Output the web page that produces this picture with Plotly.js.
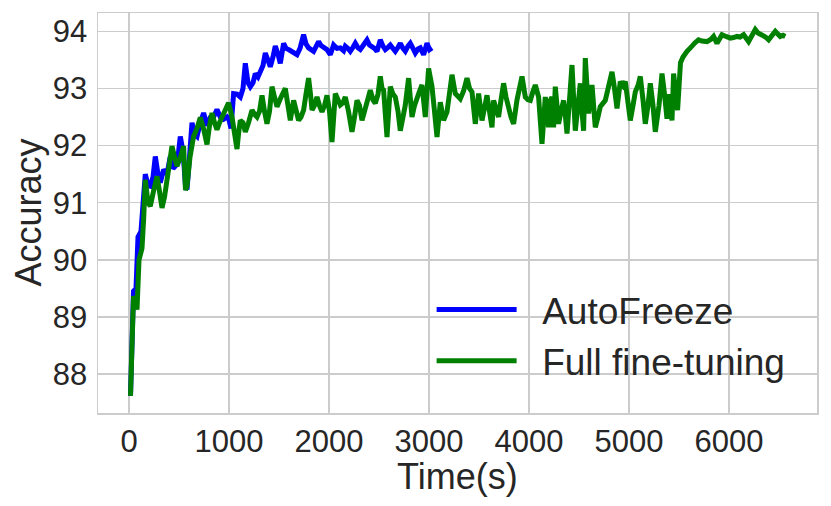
<!DOCTYPE html>
<html>
<head>
<meta charset="utf-8">
<script src="https://cdn.plot.ly/plotly-3.0.1.min.js"></script>
<style>html,body{margin:0;padding:0;background:#fff;}#chart{width:831px;height:506px;}</style>
</head>
<body>
<div id="chart"></div>
<script>
// AutoFreeze series
const autoTime = [15,45,70,90,120,163,190,213,240,263,290,313,346,380,413,440,463,490,513,540,565,580,605,630,655,680,713,746,780,813,846,880,913,946,980,1000,1020,1046,1080,1113,1140,1163,1190,1213,1240,1263,1290,1313,1340,1363,1390,1413,1440,1463,1490,1513,1546,1570,1596,1640,1680,1710,1746,1770,1796,1846,1870,1896,1920,1946,1980,2013,2046,2080,2113,2146,2163,2190,2213,2240,2263,2290,2313,2345,2380,2405,2430,2455,2480,2513,2540,2563,2590,2613,2640,2663,2690,2713,2740,2763,2790,2813,2840,2863,2890,2913,2946,2980,3005,3030];
const autoAcc  = [87.62,89.45,89.5,90.4,90.5,91.5,91.3,91.29,91.45,91.81,91.5,91.35,91.58,91.5,91.81,91.6,91.64,91.8,92.16,91.9,91.3,91.23,91.8,92.4,92.2,92.16,92.4,92.57,92.35,92.49,92.5,92.63,92.5,92.46,92.5,92.45,92.3,92.91,92.9,92.85,93.0,93.44,93.1,93.03,93.1,93.26,93.2,93.32,93.4,93.62,93.5,93.38,93.55,93.74,93.6,93.44,93.79,93.7,93.68,93.62,93.59,93.7,93.94,93.78,93.71,93.65,93.72,93.82,93.75,93.71,93.68,93.59,93.76,93.7,93.71,93.66,93.74,93.7,93.65,93.72,93.79,93.71,93.68,93.76,93.85,93.76,93.74,93.7,93.65,93.85,93.74,93.68,93.72,93.76,93.7,93.65,93.72,93.79,93.7,93.65,93.74,93.79,93.7,93.62,93.69,93.71,93.59,93.79,93.68,93.71];

// Full fine-tuning series
const fullTime = [15,45,65,80,100,113,130,146,163,190,213,245,280,305,330,355,380,405,430,455,480,515,546,565,580,610,646,680,713,745,780,805,830,855,880,905,930,960,996,1030,1060,1080,1095,1113,1140,1163,1195,1230,1255,1280,1305,1330,1355,1380,1405,1430,1455,1480,1513,1540,1563,1590,1613,1646,1670,1696,1720,1746,1770,1796,1815,1830,1855,1880,1905,1930,1955,1980,2005,2030,2063,2090,2113,2140,2163,2195,2230,2255,2280,2305,2330,2355,2380,2413,2440,2463,2490,2513,2530,2546,2580,2613,2640,2663,2690,2713,2740,2763,2796,2830,2855,2880,2905,2930,2963,2996,3030,3055,3080,3113,3146,3180,3205,3230,3263,3290,3313,3345,3380,3405,3430,3463,3496,3530,3555,3580,3605,3630,3646,3670,3696,3720,3746,3770,3796,3820,3846,3880,3930,3963,3990,4013,4040,4063,4096,4115,4130,4163,4196,4213,4230,4246,4263,4280,4296,4320,4346,4365,4380,4405,4430,4450,4463,4490,4513,4530,4546,4563,4580,4596,4630,4650,4663,4690,4713,4763,4800,4830,4855,4880,4913,4940,4963,4990,5013,5040,5063,5090,5113,5140,5163,5190,5213,5240,5263,5300,5330,5355,5380,5405,5430,5446,5486,5515,5540,5580,5610,5630,5660,5696,5730,5780,5820,5846,5880,5905,5930,5970,6013,6045,6080,6110,6146,6196,6235,6263,6290,6330,6365,6396,6430,6463,6490,6513,6540,6563];
const fullAcc  = [87.62,89.36,89.3,89.13,90.0,90.12,90.2,90.7,91.4,91.0,90.94,91.2,91.46,91.2,90.91,91.1,91.4,91.7,91.99,91.8,91.64,91.8,91.99,91.22,91.29,91.8,92.16,92.3,92.49,92.3,92.02,92.35,92.57,92.4,92.28,92.4,92.51,92.6,92.75,92.5,92.2,91.94,92.2,92.44,92.4,92.24,92.4,92.62,92.55,92.5,92.6,92.88,92.6,92.38,92.6,93.03,92.85,92.68,92.82,92.9,93.0,92.7,92.44,92.79,92.6,92.44,92.5,92.62,92.9,93.18,92.9,92.62,92.7,92.85,92.7,92.59,92.7,92.88,92.6,92.06,92.91,92.8,92.71,92.75,92.85,92.6,92.24,92.5,92.79,92.7,92.44,92.6,92.74,92.97,92.8,92.74,92.9,93.21,93.0,92.97,92.15,93.03,92.9,92.85,92.6,92.26,92.5,92.71,93.18,92.5,92.7,92.85,92.95,93.06,92.5,93.35,93.03,92.6,92.15,92.76,92.44,92.59,92.9,93.24,92.91,92.85,92.82,92.95,93.18,93.0,92.94,92.38,92.91,92.44,92.7,92.88,92.6,92.32,92.79,92.65,92.5,92.8,93.09,92.85,92.62,92.5,92.38,92.8,93.21,92.85,92.8,92.79,92.95,93.06,92.85,92.4,92.03,92.85,92.32,92.79,92.85,92.32,93.03,92.7,92.38,92.6,92.79,92.5,92.21,92.8,93.41,92.7,92.26,92.7,93.09,92.6,92.26,93.53,93.0,92.56,93.06,92.7,92.32,92.5,92.68,92.79,93.1,93.29,93.0,92.65,93.12,93.05,93.12,92.8,92.44,92.7,92.94,93.05,93.21,92.8,92.38,92.7,93.09,92.7,92.24,92.7,93.26,92.9,92.47,92.9,92.44,93.26,92.62,93.45,93.55,93.65,93.72,93.74,93.8,93.85,93.83,93.82,93.86,93.91,93.79,93.88,93.94,93.91,93.88,93.89,93.91,93.9,93.94,93.82,93.92,94.03,93.97,93.94,93.9,93.85,93.93,94.0,93.95,93.91,93.93,93.91];

const xTicks = [0,1000,2000,3000,4000,5000,6000];
const yTicks = [88,89,90,91,92,93,94];
const seriesNames = ['AutoFreeze', 'Full fine-tuning'];
const xTitle = 'Time(s)';
const yTitle = 'Accuracy';

const FONT = '"Liberation Sans", Arial, Helvetica, sans-serif';
const TXT = '#262626';
const GRID = '#cccccc';
const PAD = '\u00a0\u00a0';

const traces = [
  {x: autoTime, y: autoAcc, type: 'scatter', mode: 'lines', name: PAD + seriesNames[0],
   line: {color: '#0000ff', width: 5}},
  {x: fullTime, y: fullAcc, type: 'scatter', mode: 'lines', name: PAD + seriesNames[1],
   line: {color: '#008000', width: 5}}
];

const layout = {
  width: 831, height: 506,
  margin: {l: 98, r: 14, t: 13, b: 93, pad: 0},
  paper_bgcolor: '#ffffff', plot_bgcolor: '#ffffff',
  font: {family: FONT, color: TXT, size: 31},
  showlegend: true,
  legend: {
    x: 0.464, y: 0.335, xanchor: 'left', yanchor: 'top',
    bgcolor: 'rgba(0,0,0,0)', borderwidth: 0,
    font: {family: FONT, size: 37, color: TXT},
    itemwidth: 80, tracegroupgap: 0
  },
  xaxis: {
    range: [-310, 6880], tickvals: xTicks, ticktext: xTicks.map(String),
    showgrid: true, gridcolor: GRID, gridwidth: 1.5, zeroline: false,
    showline: true, mirror: true, linecolor: GRID, linewidth: 1.5,
    ticks: '', ticklabelstandoff: 0,
    tickfont: {family: FONT, size: 31, color: TXT},
    title: {text: ''}
  },
  yaxis: {
    range: [87.32, 94.32], tickvals: yTicks, ticktext: yTicks.map(String),
    showgrid: true, gridcolor: GRID, gridwidth: 1.5, zeroline: false,
    showline: true, mirror: true, linecolor: GRID, linewidth: 1.5,
    ticks: '', ticklabelstandoff: 3,
    tickfont: {family: FONT, size: 31, color: TXT},
    title: {text: ''}
  },
  annotations: [
    {text: xTitle, xref: 'paper', yref: 'paper', x: 0.5, y: -0.158,
     xanchor: 'center', yanchor: 'middle', showarrow: false,
     font: {family: FONT, size: 36, color: TXT}},
    {text: yTitle, xref: 'paper', yref: 'paper', x: -0.098, y: 0.5,
     xanchor: 'center', yanchor: 'middle', textangle: -90, showarrow: false,
     font: {family: FONT, size: 36, color: TXT}}
  ]
};

Plotly.newPlot('chart', traces, layout, {displayModeBar: false, staticPlot: true});
</script>
</body>
</html>
